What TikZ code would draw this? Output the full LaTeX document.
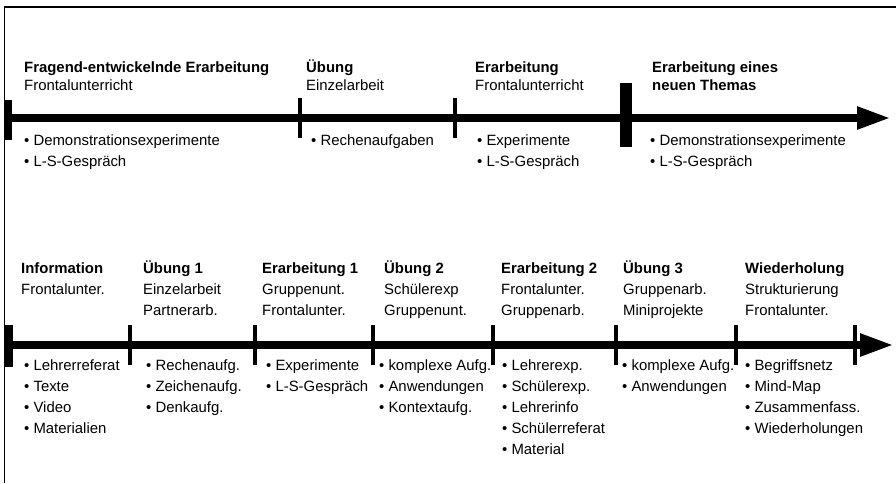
\documentclass[tikz,border=0pt]{standalone}
\usepackage{fontspec}
\setmainfont{Liberation Sans}
\usetikzlibrary{arrows.meta}
\newcommand\stk[1]{\begin{tabular}[t]{@{}l@{}}#1\end{tabular}}
\begin{document}
\begin{tikzpicture}[x=1pt,y=-1pt,
  hdr/.style={anchor=base west, inner sep=0pt, font=\fontsize{14.9}{18}\selectfont},
  lst/.style={anchor=base west, inner sep=0pt, font=\fontsize{14.9}{21}\selectfont},
  axis/.style={line width=8pt, -{Triangle[length=34pt,width=21pt]}},
  tick/.style={line width=4.5pt},
  endtick/.style={line width=7.5pt},
  bigtick/.style={line width=12pt},
  frame/.style={line width=1.3pt}]
\useasboundingbox (0,0) rectangle (896,483);
% frame
\coordinate (fb) at (4.5,483);
\coordinate (fc) at (4.5,7);
\coordinate (fr) at (896,7);
\draw[frame] (fb) -- (fc) -- (fr);

% ---------- top timeline ----------
\coordinate (ts) at (5,118);
\coordinate (te) at (891,118);
\draw[axis] (ts) -- (te);
\draw[endtick] (8.5,100) -- (8.5,140);
\draw[tick] (300,98) -- (300,138);
\draw[tick] (455,98) -- (455,138);
\draw[bigtick] (626,83) -- (626,147);

\node[hdr] (t1) at (24,72) {\stk{\textbf{Fragend-entwickelnde Erarbeitung}\\Frontalunterricht}};
\node[hdr] (t2) at (306,72) {\stk{\textbf{Übung}\\Einzelarbeit}};
\node[hdr] (t3) at (475,72) {\stk{\textbf{Erarbeitung}\\Frontalunterricht}};
\node[hdr] (t4) at (652,72) {\stk{\textbf{Erarbeitung eines}\\\textbf{neuen Themas}}};

\node[lst] (l1) at (24,145) {\stk{• Demonstrationsexperimente\\• L-S-Gespräch}};
\node[lst] (l2) at (311,145) {\stk{• Rechenaufgaben}};
\node[lst] (l3) at (477,145) {\stk{• Experimente\\• L-S-Gespräch}};
\node[lst] (l4) at (650,145) {\stk{• Demonstrationsexperimente\\• L-S-Gespräch}};

% ---------- bottom timeline ----------
\coordinate (bs) at (5,345);
\coordinate (be) at (894,345);
\draw[axis] (bs) -- (be);
\draw[endtick] (9,325) -- (9,367);
\foreach \x in {130,255,373,493,616,736,855}
  \draw[tick] (\x,325) -- (\x,365);

\node[lst] (b1) at (21,273) {\stk{\textbf{Information}\\Frontalunter.}};
\node[lst] (b2) at (143,273) {\stk{\textbf{Übung 1}\\Einzelarbeit\\Partnerarb.}};
\node[lst] (b3) at (262,273) {\stk{\textbf{Erarbeitung 1}\\Gruppenunt.\\Frontalunter.}};
\node[lst] (b4) at (384,273) {\stk{\textbf{Übung 2}\\Schülerexp\\Gruppenunt.}};
\node[lst] (b5) at (501,273) {\stk{\textbf{Erarbeitung 2}\\Frontalunter.\\Gruppenarb.}};
\node[lst] (b6) at (623,273) {\stk{\textbf{Übung 3}\\Gruppenarb.\\Miniprojekte}};
\node[lst] (b7) at (745,273) {\stk{\textbf{Wiederholung}\\Strukturierung\\Frontalunter.}};

\node[lst] (c1) at (24,370) {\stk{• Lehrerreferat\\• Texte\\• Video\\• Materialien}};
\node[lst] (c2) at (146,370) {\stk{• Rechenaufg.\\• Zeichenaufg.\\• Denkaufg.}};
\node[lst] (c3) at (266,370) {\stk{• Experimente\\• L-S-Gespräch}};
\node[lst] (c4) at (379,370) {\stk{• komplexe Aufg.\\• Anwendungen\\• Kontextaufg.}};
\node[lst] (c5) at (502,370) {\stk{• Lehrerexp.\\• Schülerexp.\\• Lehrerinfo\\• Schülerreferat\\• Material}};
\node[lst] (c6) at (622,370) {\stk{• komplexe Aufg.\\• Anwendungen}};
\node[lst] (c7) at (745,370) {\stk{• Begriffsnetz\\• Mind-Map\\• Zusammenfass.\\• Wiederholungen}};
\end{tikzpicture}
\end{document}
